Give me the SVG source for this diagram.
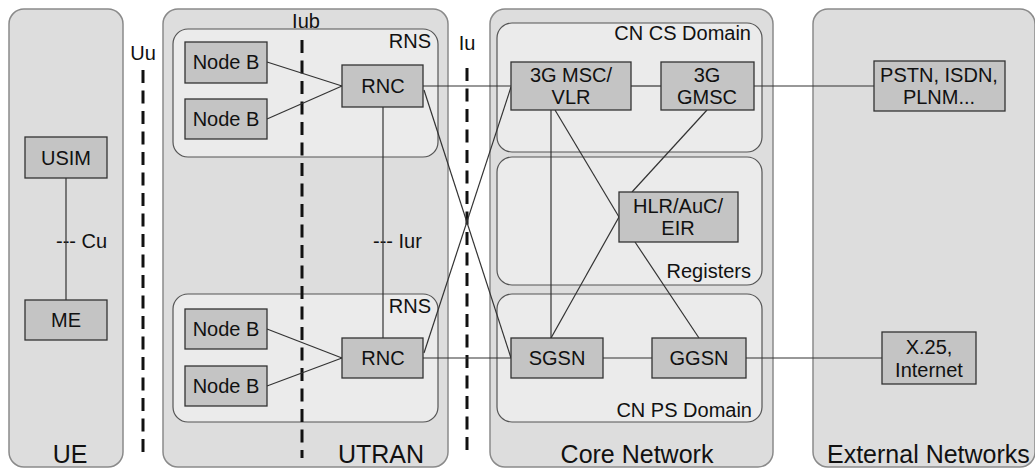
<svg xmlns="http://www.w3.org/2000/svg" width="1035" height="468" viewBox="0 0 1035 468">
  <style>
    .domain { fill: #dddddd; stroke: #8a8a8a; stroke-width: 1.5; }
    .sub { fill: #ebebeb; stroke: #555555; stroke-width: 1.2; }
    .box { fill: #c4c4c4; stroke: #333333; stroke-width: 1.3; }
    .lbl { font-family: "Liberation Sans", Arial, sans-serif; font-size: 20px; fill: #111111; }
    .mid { text-anchor: middle; }
    .end { text-anchor: end; }
    .big { font-family: "Liberation Sans", Arial, sans-serif; font-size: 25px; fill: #111111; }
    .link { stroke: #333333; stroke-width: 1.2; fill: none; }
    .iface { stroke: #111111; stroke-width: 3; stroke-dasharray: 13 7.5; fill: none; }
  </style>

  <rect width="1035" height="468" fill="#ffffff"/>

  <!-- Domains -->
  <g id="ue-domain">
    <rect class="domain" x="9" y="9" width="114" height="458" rx="15"/>
    <text class="big mid" x="70" y="463">UE</text>
  </g>
  <g id="utran-domain">
    <rect class="domain" x="163" y="9" width="285" height="458" rx="15"/>
    <text class="big end" x="424" y="463">UTRAN</text>
  </g>
  <g id="core-domain">
    <rect class="domain" x="490" y="9" width="283" height="458" rx="15"/>
    <text class="big mid" x="637" y="463">Core Network</text>
  </g>
  <g id="external-domain">
    <rect class="domain" x="813" y="9" width="222" height="458" rx="15"/>
    <text class="big" x="827" y="463">External Networks</text>
  </g>

  <!-- Sub-areas -->
  <g id="rns-top">
    <rect class="sub" x="173" y="29" width="265" height="128" rx="15"/>
    <text class="lbl end" x="431" y="48">RNS</text>
  </g>
  <g id="rns-bottom">
    <rect class="sub" x="173" y="294" width="265" height="128" rx="15"/>
    <text class="lbl end" x="431" y="313">RNS</text>
  </g>
  <g id="cn-cs">
    <rect class="sub" x="497" y="23" width="265" height="129" rx="15"/>
    <text class="lbl end" x="751" y="40">CN CS Domain</text>
  </g>
  <g id="registers">
    <rect class="sub" x="497" y="157" width="265" height="128" rx="15"/>
    <text class="lbl end" x="751" y="278">Registers</text>
  </g>
  <g id="cn-ps">
    <rect class="sub" x="497" y="294" width="265" height="128" rx="15"/>
    <text class="lbl end" x="752" y="417">CN PS Domain</text>
  </g>

  <!-- Interfaces -->
  <g id="interfaces">
    <line class="iface" x1="143" y1="70" x2="143" y2="456"/>
    <text class="lbl mid" x="143" y="60">Uu</text>
    <line class="iface" x1="302" y1="40" x2="302" y2="458"/>
    <text class="lbl mid" x="306" y="28">Iub</text>
    <line class="iface" x1="467" y1="68" x2="467" y2="456"/>
    <text class="lbl mid" x="467" y="50">Iu</text>
    <text class="lbl" x="56" y="248">--- Cu</text>
    <text class="lbl" x="373" y="248">--- Iur</text>
  </g>

  <!-- Connectors -->
  <g id="connectors">
    <line class="link" x1="66" y1="178" x2="66" y2="300"/>
    <line class="link" x1="267" y1="62" x2="342" y2="86"/>
    <line class="link" x1="267" y1="119" x2="342" y2="86"/>
    <line class="link" x1="267" y1="329" x2="342" y2="358"/>
    <line class="link" x1="267" y1="386" x2="342" y2="358"/>
    <line class="link" x1="383" y1="107" x2="383" y2="338"/>
    <line class="link" x1="423" y1="86" x2="511" y2="86"/>
    <line class="link" x1="424" y1="90" x2="511" y2="358"/>
    <line class="link" x1="424" y1="353" x2="511" y2="87"/>
    <line class="link" x1="423" y1="358" x2="511" y2="358"/>
    <line class="link" x1="631" y1="86" x2="661" y2="86"/>
    <line class="link" x1="754" y1="86" x2="874" y2="86"/>
    <line class="link" x1="603" y1="358" x2="652" y2="358"/>
    <line class="link" x1="746" y1="358" x2="882" y2="358"/>
    <line class="link" x1="551" y1="110" x2="551" y2="338"/>
    <line class="link" x1="555" y1="110" x2="619" y2="217"/>
    <line class="link" x1="707" y1="110" x2="632" y2="192"/>
    <line class="link" x1="551" y1="338" x2="619" y2="217"/>
    <line class="link" x1="635" y1="242" x2="699" y2="338"/>
  </g>

  <!-- Nodes -->
  <g id="usim">
    <rect class="box" x="25" y="137" width="82" height="41"/>
    <text class="lbl mid" x="66" y="165">USIM</text>
  </g>
  <g id="me">
    <rect class="box" x="25" y="300" width="82" height="40"/>
    <text class="lbl mid" x="66" y="327">ME</text>
  </g>
  <g id="nodeb-1">
    <rect class="box" x="185" y="42" width="82" height="41"/>
    <text class="lbl mid" x="226" y="69">Node B</text>
  </g>
  <g id="nodeb-2">
    <rect class="box" x="185" y="99" width="82" height="40"/>
    <text class="lbl mid" x="226" y="126">Node B</text>
  </g>
  <g id="rnc-1">
    <rect class="box" x="342" y="65" width="81" height="42"/>
    <text class="lbl mid" x="383" y="93">RNC</text>
  </g>
  <g id="nodeb-3">
    <rect class="box" x="185" y="309" width="82" height="40"/>
    <text class="lbl mid" x="226" y="336">Node B</text>
  </g>
  <g id="nodeb-4">
    <rect class="box" x="185" y="366" width="82" height="40"/>
    <text class="lbl mid" x="226" y="393">Node B</text>
  </g>
  <g id="rnc-2">
    <rect class="box" x="342" y="338" width="81" height="40"/>
    <text class="lbl mid" x="383" y="365">RNC</text>
  </g>
  <g id="msc-vlr">
    <rect class="box" x="511" y="62" width="120" height="48"/>
    <text class="lbl mid" x="571" y="82">3G MSC/</text>
    <text class="lbl mid" x="571" y="104">VLR</text>
  </g>
  <g id="gmsc">
    <rect class="box" x="661" y="62" width="93" height="48"/>
    <text class="lbl mid" x="707" y="82">3G</text>
    <text class="lbl mid" x="707" y="104">GMSC</text>
  </g>
  <g id="hlr">
    <rect class="box" x="619" y="192" width="119" height="50"/>
    <text class="lbl mid" x="678" y="213">HLR/AuC/</text>
    <text class="lbl mid" x="678" y="235">EIR</text>
  </g>
  <g id="sgsn">
    <rect class="box" x="511" y="338" width="92" height="40"/>
    <text class="lbl mid" x="557" y="365">SGSN</text>
  </g>
  <g id="ggsn">
    <rect class="box" x="652" y="338" width="94" height="40"/>
    <text class="lbl mid" x="699" y="365">GGSN</text>
  </g>
  <g id="pstn">
    <rect class="box" x="874" y="61" width="131" height="50"/>
    <text class="lbl mid" x="939" y="82">PSTN, ISDN,</text>
    <text class="lbl mid" x="939" y="104">PLNM...</text>
  </g>
  <g id="x25">
    <rect class="box" x="882" y="332" width="94" height="52"/>
    <text class="lbl mid" x="929" y="354">X.25,</text>
    <text class="lbl mid" x="929" y="377">Internet</text>
  </g>
</svg>
